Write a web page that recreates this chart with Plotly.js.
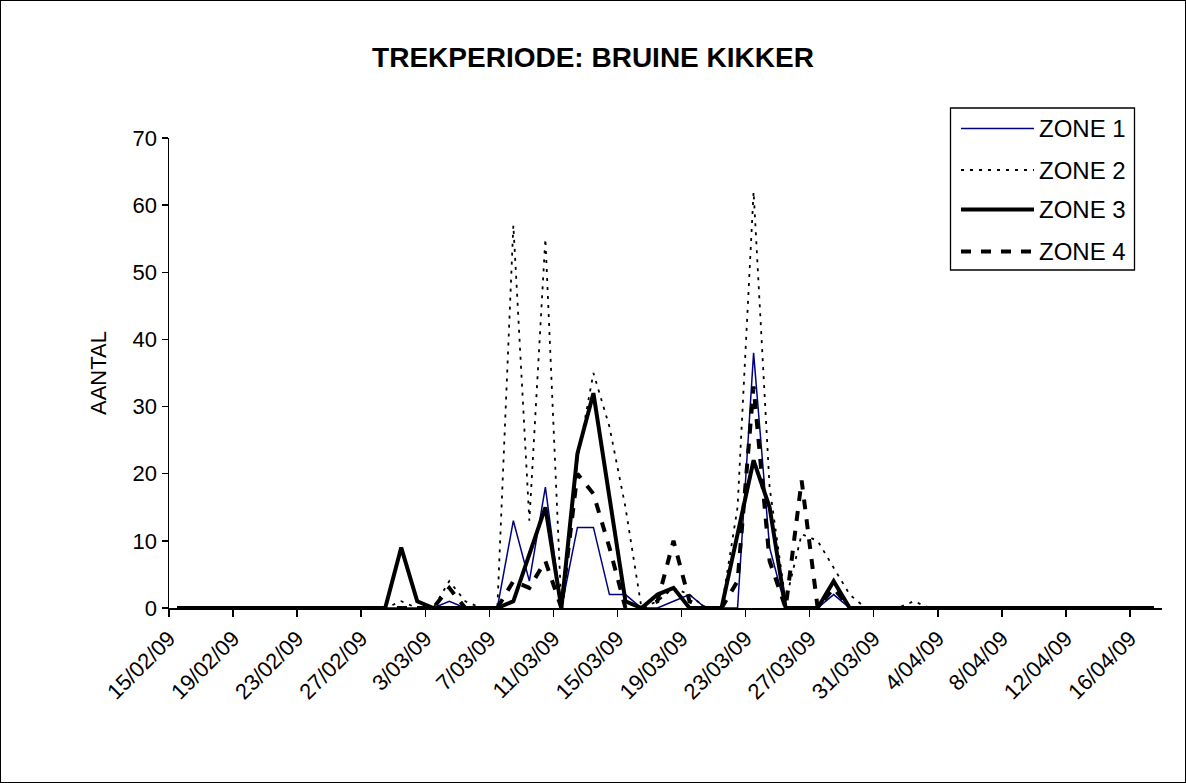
<!DOCTYPE html>
<html>
<head>
<meta charset="utf-8">
<script src="https://cdn.plot.ly/plotly-3.0.1.min.js"></script>
<style>
  html, body { margin: 0; padding: 0; background: #ffffff; }
  #wrap { position: relative; width: 1186px; height: 783px; }
  #chart { width: 1186px; height: 783px; }
  #frame { position: absolute; left: 0; top: 0; width: 1184px; height: 781px; border: 1px solid #000; pointer-events: none; }
</style>
</head>
<body>
<div id="wrap"><div id="chart"></div><div id="frame"></div></div>
<script>
// ---- data ----
const dates = [
  '2009-02-15','2009-02-16','2009-02-17','2009-02-18','2009-02-19','2009-02-20','2009-02-21',
  '2009-02-22','2009-02-23','2009-02-24','2009-02-25','2009-02-26','2009-02-27','2009-02-28',
  '2009-03-01','2009-03-02','2009-03-03','2009-03-04','2009-03-05','2009-03-06','2009-03-07',
  '2009-03-08','2009-03-09','2009-03-10','2009-03-11','2009-03-12','2009-03-13','2009-03-14',
  '2009-03-15','2009-03-16','2009-03-17','2009-03-18','2009-03-19','2009-03-20','2009-03-21',
  '2009-03-22','2009-03-23','2009-03-24','2009-03-25','2009-03-26','2009-03-27','2009-03-28',
  '2009-03-29','2009-03-30','2009-03-31','2009-04-01','2009-04-02','2009-04-03','2009-04-04',
  '2009-04-05','2009-04-06','2009-04-07','2009-04-08','2009-04-09','2009-04-10','2009-04-11',
  '2009-04-12','2009-04-13','2009-04-14','2009-04-15','2009-04-16','2009-04-17'
];
const zone1 = [0,0,0,0,0,0,0, 0,0,0,0,0,0,0, 0,0,0,1,0,0,0, 13,4,18,0,12,12,2, 2,0,0,1,2,0,0, 0,38,9,0,0,0,2, 0,0,0,0,0,0,0, 0,0,0,0,0,0,0, 0,0,0,0,0,0];
const zone2 = [0,0,0,0,0,0,0, 0,0,0,0,0,0,0, 1,0,0,4,1,0,0, 57,13,55,0,22,35,27, 15,0,1,3,2,0,0, 15,62,18,1,11,10,6, 2,0,0,0,1,0,0, 0,0,0,0,0,0,0, 0,0,0,0,0,0];
const zone3 = [0,0,0,0,0,0,0, 0,0,0,0,0,0,0, 9,1,0,0,0,0,0, 1,8,15,0,23,32,16, 1,0,2,3,0,0,0, 11,22,15,0,0,0,4, 0,0,0,0,0,0,0, 0,0,0,0,0,0,0, 0,0,0,0,0,0];
const zone4 = [0,0,0,0,0,0,0, 0,0,0,0,0,0,0, 0,0,0,3,0,0,0, 4,3,7,0,20,17,9, 0,0,1,10,1,0,0, 4,33,7,0,19,0,3, 0,0,0,0,0,0,0, 0,0,0,0,0,0,0, 0,0,0,0,0,0];
const seriesNames = ['ZONE 1','ZONE 2','ZONE 3','ZONE 4'];
const tickDates = ['2009-02-15','2009-02-19','2009-02-23','2009-02-27','2009-03-03','2009-03-07',
  '2009-03-11','2009-03-15','2009-03-19','2009-03-23','2009-03-27','2009-03-31','2009-04-04',
  '2009-04-08','2009-04-12','2009-04-16'];
const tickLabels = ['15/02/09','19/02/09','23/02/09','27/02/09','3/03/09','7/03/09','11/03/09',
  '15/03/09','19/03/09','23/03/09','27/03/09','31/03/09','4/04/09','8/04/09','12/04/09','16/04/09'];
const titleText = 'TREKPERIODE: BRUINE KIKKER';
const yTitle = 'AANTAL';

// ---- styles ----
const FONT = '"Liberation Sans", Arial, Helvetica, sans-serif';
const styles = [
  {color: '#000080', width: 1.5, dash: 'solid'},
  {color: '#000000', width: 1.8, dash: '3px,6px'},
  {color: '#000000', width: 4, dash: 'solid'},
  {color: '#000000', width: 4, dash: '10px,10px'}
];
const allSeries = [zone1, zone2, zone3, zone4];

// points sit in the middle of each day band (Excel "between tick marks")
const xs = dates.map(d => d + ' 12:00');

const traces = allSeries.map((vals, i) => ({
  type: 'scatter', mode: 'lines', x: xs, y: vals, name: seriesNames[i],
  line: {color: styles[i].color, width: styles[i].width, dash: styles[i].dash},
  showlegend: false, hoverinfo: 'x+y+name'
}));

// custom legend (box, sample lines, labels) in paper coordinates
const L = {l: 169, r: 24, t: 138, b: 175};
const W = 1186, H = 783;
const pw = W - L.l - L.r, ph = H - L.t - L.b;
const px = v => (v - L.l) / pw;
const py = v => (H - L.b - v) / ph;
const shapes = [{
  type: 'rect', xref: 'paper', yref: 'paper',
  x0: px(950.5), x1: px(1134.5), y0: py(270), y1: py(108),
  line: {color: '#000', width: 1.3}, fillcolor: 'rgba(255,255,255,1)', layer: 'above'
}];
const annotations = [];
const rowY = [128.5, 170, 209.5, 251.5];
seriesNames.forEach((n, i) => {
  shapes.push({
    type: 'line', xref: 'paper', yref: 'paper',
    x0: px(961), x1: px(1034), y0: py(rowY[i]), y1: py(rowY[i]),
    line: {color: styles[i].color, width: styles[i].width, dash: styles[i].dash}, layer: 'above'
  });
  annotations.push({
    xref: 'paper', yref: 'paper', x: px(1037), y: py(rowY[i]),
    xanchor: 'left', yanchor: 'middle', showarrow: false, text: n,
    font: {family: FONT, size: 24, color: '#000'}
  });
});

const layout = {
  width: W, height: H,
  margin: L,
  paper_bgcolor: '#ffffff', plot_bgcolor: '#ffffff',
  font: {family: FONT, size: 22, color: '#000'},
  title: {
    text: '<b>' + titleText + '</b>', xref: 'container', x: 0.5, xanchor: 'center',
    yref: 'container', y: 1 - 57 / H, yanchor: 'middle',
    font: {family: FONT, size: 28, color: '#000'}
  },
  xaxis: {
    type: 'date', range: ['2009-02-15', '2009-04-18'],
    tickmode: 'array', tickvals: tickDates, ticktext: tickLabels,
    tickangle: -45, ticks: 'outside', ticklen: 7, tickwidth: 1.5, tickcolor: '#000',
    showline: true, linecolor: '#000', linewidth: 2, showgrid: false, zeroline: false,
    tickfont: {family: FONT, size: 22, color: '#000'}, automargin: false, fixedrange: true
  },
  yaxis: {
    range: [0, 70], tickmode: 'linear', tick0: 0, dtick: 10,
    ticks: 'outside', ticklen: 6, tickwidth: 1.5, tickcolor: '#000',
    showline: true, linecolor: '#000', linewidth: 1.5, showgrid: false, zeroline: false,
    tickfont: {family: FONT, size: 22, color: '#000'}, automargin: false, fixedrange: true,
    title: {text: yTitle, standoff: 20, font: {family: FONT, size: 22, color: '#000'}}
  },
  shapes: shapes,
  annotations: annotations,
  showlegend: false
};

Plotly.newPlot('chart', traces, layout, {displayModeBar: false, responsive: false, staticPlot: true});
</script>
</body>
</html>
